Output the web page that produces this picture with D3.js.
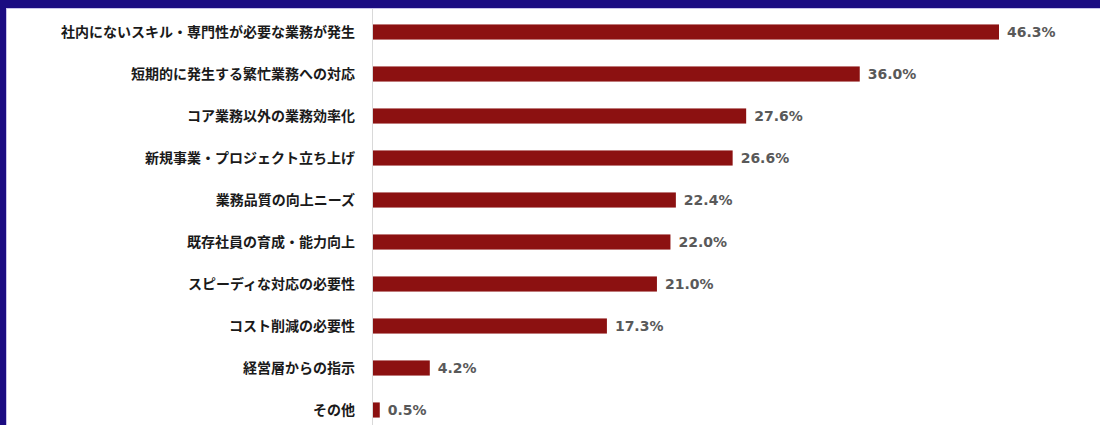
<!DOCTYPE html>
<html>
<head>
<meta charset="utf-8">
<script src="https://cdn.jsdelivr.net/npm/d3@7"></script>
<style>
  html, body { margin: 0; padding: 0; background: #ffffff; }
  svg { display: block; }
</style>
</head>
<body>
<svg id="chart" width="1100" height="425"></svg>
<script>
// Reasons for using outside talent (%), sorted by share
const categories = [
  "社内にないスキル・専門性が必要な業務が発生",
  "短期的に発生する繁忙業務への対応",
  "コア業務以外の業務効率化",
  "新規事業・プロジェクト立ち上げ",
  "業務品質の向上ニーズ",
  "既存社員の育成・能力向上",
  "スピーディな対応の必要性",
  "コスト削減の必要性",
  "経営層からの指示",
  "その他"
];
const values = [46.3, 36.0, 27.6, 26.6, 22.4, 22.0, 21.0, 17.3, 4.2, 0.5];

const W = 1100, H = 425;
const svg = d3.select("#chart");

// Frame: navy band across the top and down the left edge
svg.append("rect").attr("x", 0).attr("y", 0).attr("width", W).attr("height", 8).attr("fill", "#1b0c82");
svg.append("rect").attr("x", 0).attr("y", 0).attr("width", 6).attr("height", H).attr("fill", "#1b0c82");
svg.append("line").attr("x1", 6).attr("x2", W).attr("y1", 8.5).attr("y2", 8.5)
  .attr("stroke", "#c9c3ea").attr("stroke-width", 1);
svg.append("line").attr("x1", 6.5).attr("x2", 6.5).attr("y1", 8).attr("y2", H)
  .attr("stroke", "#c9c3ea").attr("stroke-width", 1);

const x0 = 373;
const x = d3.scaleLinear().domain([0, 46.3]).range([x0, 999]);
const y = d3.scaleBand().domain(categories).range([11, 431]).paddingInner(0.64).paddingOuter(0.32);

// Category axis line
svg.append("line")
  .attr("x1", x0 - 0.5).attr("x2", x0 - 0.5)
  .attr("y1", 9).attr("y2", H)
  .attr("stroke", "#d9d9d9").attr("stroke-width", 1);

// Bars
svg.append("g").selectAll("rect")
  .data(values)
  .join("rect")
  .attr("x", x0)
  .attr("y", (d, i) => y(categories[i]))
  .attr("width", d => x(d) - x0)
  .attr("height", y.bandwidth())
  .attr("fill", "#8c1111");

// Category labels
svg.append("g").selectAll("text")
  .data(categories)
  .join("text")
  .attr("x", 355)
  .attr("y", d => y(d) + y.bandwidth() / 2)
  .attr("dy", "0.36em")
  .attr("text-anchor", "end")
  .attr("font-family", "'Noto Sans CJK JP', sans-serif")
  .attr("font-weight", "bold")
  .attr("font-size", 14)
  .attr("fill", "#1a1a1a")
  .text(d => d);

// Value labels
svg.append("g").selectAll("text")
  .data(values)
  .join("text")
  .attr("x", d => x(d) + 8)
  .attr("y", (d, i) => y(categories[i]) + y.bandwidth() / 2)
  .attr("dy", "0.36em")
  .attr("font-family", "'DejaVu Sans', Verdana, sans-serif")
  .attr("font-weight", "bold")
  .attr("font-size", 14)
  .attr("fill", "#595959")
  .text(d => d.toFixed(1) + "%");
</script>
</body>
</html>
